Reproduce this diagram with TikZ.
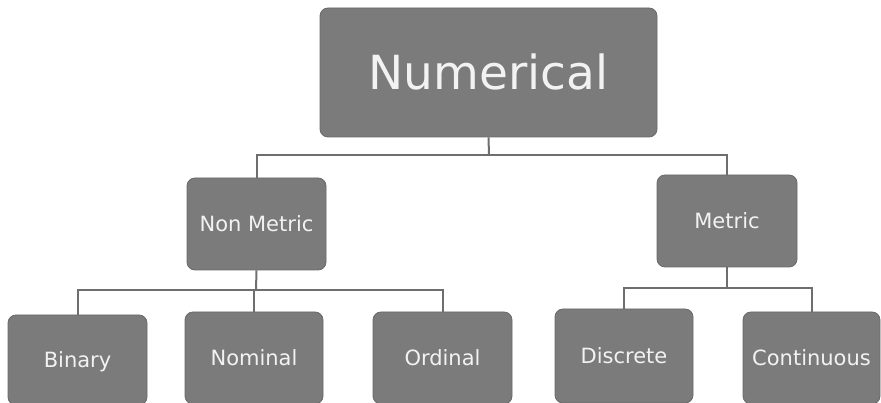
\documentclass[tikz,border=0pt]{standalone}
\usepackage{fontspec}
\setmainfont{DejaVu Sans}
\definecolor{boxgray}{HTML}{7B7B7B}
\definecolor{linegray}{HTML}{6E6E6E}
\definecolor{txt}{HTML}{F2F2F2}
\begin{document}
\begin{tikzpicture}[x=1pt,y=-1pt,
  box/.style={draw=boxgray!85!black,line width=0.8pt,fill=boxgray,rounded corners=8pt,text=txt,inner sep=0pt,
    text height=15.3pt,text depth=0pt,font=\fontsize{21}{25}\selectfont},
  bigbox/.style={box,text height=34.3pt,font=\fontsize{47}{52}\selectfont},
  conn/.style={draw=linegray,line width=2pt}]
\useasboundingbox (0,0) rectangle (881,403);
\node[bigbox,minimum width=337pt,minimum height=129pt] (num) at (488.5,72.5) {Numerical};
\node[box,minimum width=139pt,minimum height=92pt] (nm) at (256.5,224) {Non Metric};
\node[box,minimum width=140pt,minimum height=92pt] (met) at (727,221) {Metric};
\node[box,minimum width=139pt,minimum height=90pt] (bin) at (77.5,360) {Binary};
\node[box,minimum width=138pt,minimum height=92pt] (nom) at (254,358) {Nominal};
\node[box,minimum width=139pt,minimum height=92pt] (ord) at (442.5,358) {Ordinal};
\node[box,minimum width=138pt,minimum height=94pt] (dis) at (624,356) {Discrete};
\node[box,minimum width=137pt,minimum height=92pt] (con) at (811.5,358) {Continuous};
\coordinate (j0) at (489,155);
\coordinate (j1) at (256,290);
\coordinate (j2) at (727,288);
\draw[conn] (num.south) -- (j0);
\draw[conn] (j0) -| (nm.north);
\draw[conn] (j0) -| (met.north);
\draw[conn] (nm.south) -- (j1);
\draw[conn] (j1) -| (bin.north);
\draw[conn] (j1) -| (nom.north);
\draw[conn] (j1) -| (ord.north);
\draw[conn] (met.south) -- (j2);
\draw[conn] (j2) -| (dis.north);
\draw[conn] (j2) -| (con.north);
\end{tikzpicture}
\end{document}
